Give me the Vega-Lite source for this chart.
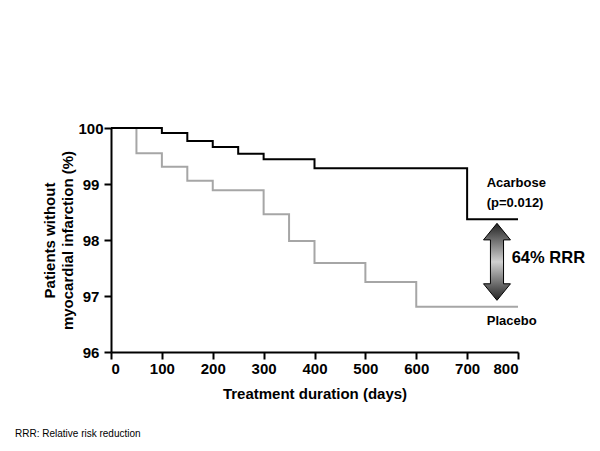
{
  "$schema": "https://vega.github.io/schema/vega-lite/v6.json",
  "width": 407,
  "height": 224,
  "autosize": {"type": "none"},
  "padding": {"left": 111, "top": 128, "right": 82, "bottom": 99},
  "background": "white",
  "config": {
    "view": {"stroke": null},
    "font": "Liberation Sans",
    "axis": {
      "grid": false,
      "domainColor": "#000000",
      "domainWidth": 2,
      "tickColor": "#000000",
      "tickWidth": 2,
      "tickSize": 7,
      "labelFont": "Liberation Sans",
      "labelFontWeight": "bold",
      "labelFontSize": 15,
      "labelColor": "#000000",
      "titleFont": "Liberation Sans",
      "titleFontWeight": "bold",
      "titleFontSize": 15,
      "titleColor": "#000000"
    }
  },
  "title": {
    "text": "RRR: Relative risk reduction",
    "orient": "bottom",
    "anchor": "start",
    "frame": "group",
    "dx": -96,
    "offset": 28,
    "font": "Liberation Sans",
    "fontSize": 10,
    "fontWeight": "normal",
    "color": "#000000"
  },
  "layer": [
    {
      "data": {
        "values": [
          {"group": "Placebo", "day": 0, "pct": 100},
          {"group": "Placebo", "day": 50, "pct": 99.55},
          {"group": "Placebo", "day": 100, "pct": 99.31},
          {"group": "Placebo", "day": 150, "pct": 99.06},
          {"group": "Placebo", "day": 200, "pct": 98.89},
          {"group": "Placebo", "day": 300, "pct": 98.46},
          {"group": "Placebo", "day": 350, "pct": 97.98},
          {"group": "Placebo", "day": 400, "pct": 97.59},
          {"group": "Placebo", "day": 500, "pct": 97.25},
          {"group": "Placebo", "day": 600, "pct": 96.81},
          {"group": "Placebo", "day": 800, "pct": 96.81},
          {"group": "Acarbose", "day": 0, "pct": 100},
          {"group": "Acarbose", "day": 100, "pct": 99.91},
          {"group": "Acarbose", "day": 150, "pct": 99.77},
          {"group": "Acarbose", "day": 200, "pct": 99.66},
          {"group": "Acarbose", "day": 250, "pct": 99.54},
          {"group": "Acarbose", "day": 300, "pct": 99.44},
          {"group": "Acarbose", "day": 400, "pct": 99.28},
          {"group": "Acarbose", "day": 700, "pct": 98.37},
          {"group": "Acarbose", "day": 800, "pct": 98.37}
        ]
      },
      "mark": {"type": "line", "interpolate": "step-after", "strokeWidth": 2},
      "encoding": {
        "x": {
          "field": "day",
          "type": "quantitative",
          "scale": {"domain": [0, 800], "nice": false},
          "axis": {"values": [0, 100, 200, 300, 400, 500, 600, 700, 800], "format": "d", "title": "Treatment duration (days)", "titlePadding": 10, "labelPadding": 2}
        },
        "y": {
          "field": "pct",
          "type": "quantitative",
          "scale": {"domain": [96, 100], "zero": false, "nice": false},
          "axis": {"values": [96, 97, 98, 99, 100], "format": "d", "title": ["Patients without", "myocardial infarction (%)"], "labelAlign": "center", "labelPadding": 13.5, "titlePadding": 2, "titleLineHeight": 18}
        },
        "color": {
          "field": "group",
          "type": "nominal",
          "scale": {"domain": ["Acarbose", "Placebo"], "range": ["#000000", "#a6a6a6"]},
          "legend": null
        },
        "order": {"field": "day", "type": "quantitative"}
      }
    },
    {
      "data": {"values": [{"label": "64% RRR"}]},
      "mark": {
        "type": "point",
        "shape": "M0,-1L0.35,-0.57L0.17,-0.57L0.17,0.57L0.35,0.57L0,1L-0.35,0.57L-0.17,0.57L-0.17,-0.57L-0.35,-0.57Z",
        "size": 5929,
        "filled": true,
        "opacity": 1,
        "fill": {
          "gradient": "linear",
          "x1": 0, "y1": 0, "x2": 0, "y2": 1,
          "stops": [
            {"offset": 0, "color": "#222222"},
            {"offset": 0.5, "color": "#d0d0d0"},
            {"offset": 1, "color": "#222222"}
          ]
        },
        "stroke": "#000000",
        "strokeWidth": 1
      },
      "encoding": {
        "x": {"datum": 758.7, "type": "quantitative"},
        "y": {"datum": 97.61, "type": "quantitative"}
      }
    },
    {
      "data": {"values": [{"label": "64% RRR"}]},
      "mark": {"type": "text", "align": "left", "baseline": "middle", "fontSize": 16.5, "fontWeight": "bold", "color": "#000000"},
      "encoding": {
        "x": {"datum": 787.6, "type": "quantitative"},
        "y": {"datum": 97.68, "type": "quantitative"},
        "text": {"field": "label"}
      }
    },
    {
      "data": {"values": [{"label": "Acarbose"}]},
      "mark": {"type": "text", "align": "left", "baseline": "middle", "fontSize": 13, "fontWeight": "bold", "color": "#000000"},
      "encoding": {
        "x": {"datum": 738.5, "type": "quantitative"},
        "y": {"datum": 99.02, "type": "quantitative"},
        "text": {"field": "label"}
      }
    },
    {
      "data": {"values": [{"label": "(p=0.012)"}]},
      "mark": {"type": "text", "align": "left", "baseline": "middle", "fontSize": 13, "fontWeight": "bold", "color": "#000000"},
      "encoding": {
        "x": {"datum": 738.5, "type": "quantitative"},
        "y": {"datum": 98.66, "type": "quantitative"},
        "text": {"field": "label"}
      }
    },
    {
      "data": {"values": [{"label": "Placebo"}]},
      "mark": {"type": "text", "align": "left", "baseline": "middle", "fontSize": 13, "fontWeight": "bold", "color": "#000000"},
      "encoding": {
        "x": {"datum": 738.5, "type": "quantitative"},
        "y": {"datum": 96.56, "type": "quantitative"},
        "text": {"field": "label"}
      }
    }
  ]
}
